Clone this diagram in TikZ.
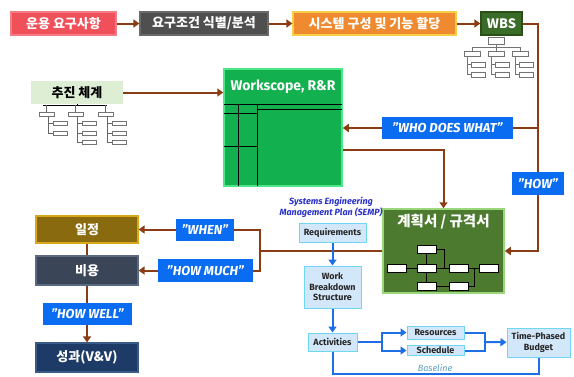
\documentclass[tikz,border=0pt]{standalone}
\usepackage{fontspec}
\setmainfont{Fira Sans}
\newfontfamily\kr{Noto Sans CJK KR}
\usepackage{xcolor}
\usepackage{tikz}
\usetikzlibrary{arrows.meta,positioning,calc}

\definecolor{opRed}{HTML}{F0505A}
\definecolor{opRedEdge}{HTML}{F47C84}
\definecolor{reqGray}{HTML}{4F4F4F}
\definecolor{reqGrayEdge}{HTML}{6A6A6A}
\definecolor{sysOrange}{HTML}{F08A30}
\definecolor{sysOrangeEdge}{HTML}{F6CE48}
\definecolor{wbsGreen}{HTML}{3A6B28}
\definecolor{wbsGreenEdge}{HTML}{2A5018}
\definecolor{orgGreen}{HTML}{DDEED5}
\definecolor{wsGreen}{HTML}{12B04E}
\definecolor{wsGreenEdge}{HTML}{4CE888}
\definecolor{planGreen}{HTML}{4C7A2E}
\definecolor{planGreenEdge}{HTML}{9AD67A}
\definecolor{schGold}{HTML}{8A6A0E}
\definecolor{schGoldEdge}{HTML}{D8A818}
\definecolor{costSlate}{HTML}{3A4558}
\definecolor{costSlateEdge}{HTML}{5A6A80}
\definecolor{perfNavy}{HTML}{1E3A66}
\definecolor{perfNavyEdge}{HTML}{3A5A88}
\definecolor{tagblue}{HTML}{0A6CF0}
\definecolor{brownline}{HTML}{8B3C14}
\definecolor{flowblue}{HTML}{1E6FE6}
\definecolor{palefill}{HTML}{D2E8FA}
\definecolor{paleedge}{HTML}{6ED8F4}
\definecolor{sempblue}{HTML}{2A32C8}
\definecolor{baseblue}{HTML}{5A9EC0}

\begin{document}
\begin{tikzpicture}[x=1pt, y=-1pt,
	box/.style={draw, line width=1.2pt, inner sep=0pt, text=white, font=\kr\bfseries\fontsize{13}{15}\selectfont},
	tag/.style={fill=tagblue, inner sep=0pt, text=white, font=\bfseries\itshape\fontsize{13}{15}\selectfont},
	pale/.style={draw=paleedge, fill=palefill, line width=1pt, inner sep=0pt, align=center, text=black!85, font=\bfseries\fontsize{9}{10.5}\selectfont},
	conn/.style={draw=brownline, line width=2pt},
	flow/.style={draw=flowblue, line width=2pt},
	tip/.style={-{Triangle[length=6pt,width=8pt]}},
	mini/.style={draw=black!55, fill=white, line width=0.6pt}
	]
	\useasboundingbox (0,0) rectangle (574,376);

	% top row
	\node[box, fill=opRed, draw=opRedEdge, minimum width=105pt, minimum height=23pt] (need) at (63.5,23.5) {운용 요구사항};
	\node[box, fill=reqGray, draw=reqGrayEdge, minimum width=128pt, minimum height=23pt] (anal) at (204,23.5) {요구조건 식별/분석};
	\node[box, fill=sysOrange, draw=sysOrangeEdge, minimum width=163pt, minimum height=23pt] (alloc) at (374.5,23.5) {시스템 구성 및 기능 할당};
	\node[box, fill=wbsGreen, draw=wbsGreenEdge, minimum width=41pt, minimum height=23pt] (wbs) at (501.5,23.5) {WBS};

	% left / middle boxes
	\node[fill=orgGreen, inner sep=0pt, minimum width=92pt, minimum height=23pt, font=\kr\bfseries\fontsize{13}{15}\selectfont] (org) at (77,92.5) {추진 체계};
	\node[draw=wsGreenEdge, fill=wsGreen, line width=1.5pt, minimum width=118pt, minimum height=117pt] (ws) at (283,127.5) {};
	\node[text=white, font=\bfseries\fontsize{14}{16}\selectfont, below=8pt of ws.north] (wstitle) {Workscope, R\&R};
	\node[draw=planGreenEdge, fill=planGreen, line width=1.5pt, minimum width=121pt, minimum height=84pt] (plan) at (443.5,251) {};
	\node[text=white, font=\kr\bfseries\fontsize{14.5}{16}\selectfont, below=2pt of plan.north] (plantitle) {계획서 / 규격서};

	\node[box, fill=schGold, draw=schGoldEdge, minimum width=102pt, minimum height=27pt] (sched) at (87,229.5) {일정};
	\node[box, fill=costSlate, draw=costSlateEdge, minimum width=102pt, minimum height=29pt] (cost) at (87,270.5) {비용};
	\node[box, fill=perfNavy, draw=perfNavyEdge, minimum width=102pt, minimum height=29pt] (perf) at (87,357.5) {성과(V\&V)};

	% SEMP flow
	\node[text=sempblue, align=center, font=\bfseries\itshape\fontsize{9}{10.5}\selectfont] (semp) at (331,207.5) {Systems Engineering\\Management Plan (SEMP)};
	\node[pale, minimum width=67pt, minimum height=19pt] (reqs) at (332.5,232.5) {Requirements};
	\node[pale, minimum width=57pt, minimum height=42pt] (brk) at (332.5,287) {Work\\Breakdown\\Structure};
	\node[pale, minimum width=49pt, minimum height=18pt] (act) at (332.5,342) {Activities};
	\node[pale, minimum width=57pt, minimum height=13pt] (res) at (435.5,332.5) {Resources};
	\node[pale, minimum width=57pt, minimum height=10pt] (sch) at (435.5,350.5) {Schedule};
	\node[pale, minimum width=63pt, minimum height=29pt] (tpb) at (538.5,342.5) {Time-Phased\\Budget};

	% small org charts
	\draw[mini] (488,37) rectangle (504,44);
	\draw[black!55, line width=0.6pt] (496,44) -- (496,47) (472,47) -- (520,47);
	\foreach \L in {464,488,512} {
		\draw[black!55, line width=0.6pt] (\L+8,47) -- (\L+8,51) (\L+3,56) -- (\L+3,74.5)
			(\L+3,64.5) -- (\L+7,64.5) (\L+3,74.5) -- (\L+7,74.5);
		\draw[mini] (\L,51) rectangle (\L+16,56);
		\draw[mini] (\L+7,62) rectangle (\L+21,67);
		\draw[mini] (\L+7,72) rectangle (\L+21,77);
	}
	\draw[black, line width=1pt] (77,104) -- (77,105) (43,105) -- (107,105);
	\foreach \L/\n in {39/2,68/3,98/3} {
		\draw[black!60, line width=0.6pt] (\L+7,105) -- (\L+7,112);
		\draw[mini] (\L,112) rectangle (\L+15,116);
		\foreach \k in {1,...,\n} {
			\draw[black!60, line width=0.8pt] (\L+9,116) -- (\L+9,{114+9.5*\k}) -- (\L+14,{114+9.5*\k});
			\draw[mini] (\L+14,{112+9.5*\k}) rectangle (\L+28,{116+9.5*\k});
		}
	}

	% table lines in workscope box
	\draw[black, line width=0.8pt] (224,104) -- (342,104) (257,109) -- (342,109) (224,113) -- (257,113)
		(238,104) -- (238,186) (257,104) -- (257,186) (224,146) -- (257,146);

	% network in plan box
	\foreach \nm/\x/\y in {pa/426.5/249.5, pb/397/268, pc/426.5/268, pd/459/268, pe/488.5/268, pf/426.5/286, pg/459/286}
		\node[draw=black, fill=white, line width=0.8pt, minimum width=19pt, minimum height=8pt, inner sep=0pt] (\nm) at (\x,\y) {};
	\draw[black, line width=1pt] (pb) -- (pc) (pc) -- (pd) (pa) -- (pc) (pc) -- (pf) (pf) -- (pg)
		(pa.east) -| (444,268) (pd.east) -- (pe.west) (pg.east) -| (474,268);

	% brown connectors
	\draw[conn, tip] (need) -- (anal);
	\draw[conn, tip] (anal) -- (alloc);
	\draw[conn, tip] (alloc) -- (wbs);
	\coordinate (rail) at (538,128);
	\draw[conn, tip] (wbs.east) -| (rail) |- (plan.east);
	\draw[conn, tip] (rail) -- (rail -| ws.east);
	\draw[conn, tip] (org.east) -- (org.east -| ws.west);
	\draw[conn, tip] (ws.east |- 0,150) -| (plan.north);
	\coordinate (split) at (260,251);
	\draw[conn] (plan.west |- split) -- (split);
	\draw[conn, tip] (split) |- (sched.east);
	\draw[conn, tip] (split) |- (cost.east);
	\draw[conn] (sched) -- (cost);
	\draw[conn, tip] (cost) -- (perf);

	% blue connectors
	\draw[flow, tip] (reqs) -- (brk);
	\draw[flow, tip] (brk) -- (act);
	\coordinate (fork) at (382,342);
	\coordinate (join) at (485,342);
	\draw[flow] (act) -- (fork);
	\draw[flow, tip] (fork) |- (res.west);
	\draw[flow, tip] (fork) |- (sch.west);
	\draw[flow] (res.east) -| (join) |- (sch.east);
	\draw[flow, tip] (join) -- (tpb);
	\draw[flow] (act.south) -- (332.5,374) -| (tpb.south);
	\node[text=baseblue, font=\itshape\fontsize{9}{10}\selectfont] (base) at (435,368.5) {Baseline};

	% labels on connectors
	\node[tag, minimum width=131pt, minimum height=22pt] (who) at (447.5,128) {"WHO DOES WHAT"};
	\node[tag, minimum width=52pt, minimum height=23pt] (how) at (538,183.5) {"HOW"};
	\node[tag, minimum width=58pt, minimum height=22pt] (when) at (205,230) {"WHEN"};
	\node[tag, minimum width=95pt, minimum height=23pt] (much) at (205.5,270.5) {"HOW MUCH"};
	\node[tag, minimum width=89pt, minimum height=22pt] (well) at (87.5,314) {"HOW WELL"};
\end{tikzpicture}
\end{document}
